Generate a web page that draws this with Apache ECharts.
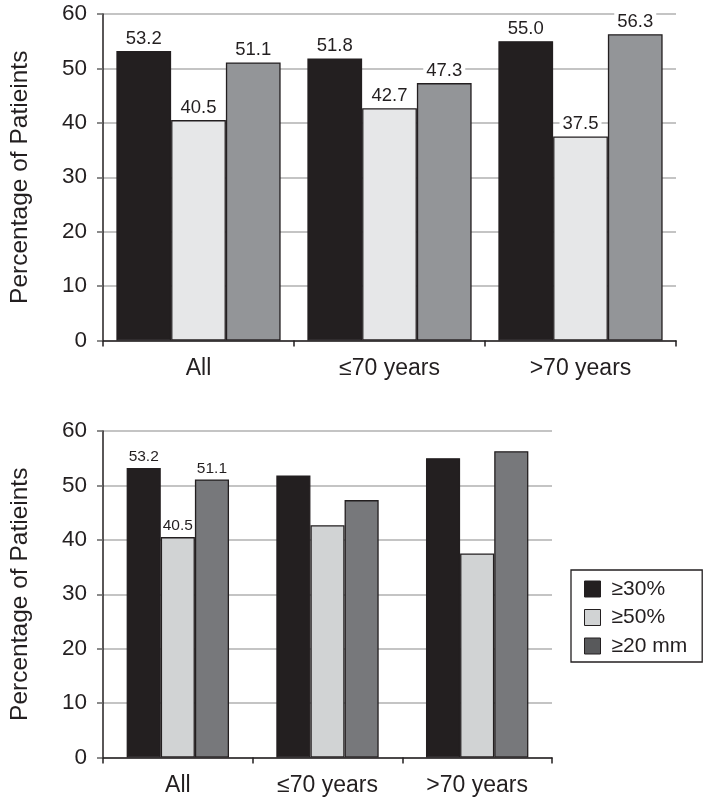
<!DOCTYPE html>
<html>
<head>
<meta charset="utf-8">
<script src="https://cdn.jsdelivr.net/npm/echarts@6/dist/echarts.min.js"></script>
<style>html,body{margin:0;padding:0;background:#fff;}#c{width:705px;height:800px;}</style>
</head>
<body>
<div id="c"></div>
<script>
const categories = ['All', '\u226470 years', '>70 years'];
const seriesNames = ['\u226530%', '\u226550%', '\u226520 mm'];
const s30 = [53.2, 51.8, 55.0];
const s50 = [40.5, 42.7, 37.5];
const s20 = [51.1, 47.3, 56.3];
const yMin = 0, yMax = 60, yStep = 10;
const labeledInBottom = [0];

const FONT = 'Liberation Sans';
const INK = '#231f20';
const topColors = ['#231f20', '#e6e7e8', '#939598'];
const botColors = ['#231f20', '#d1d3d4', '#77787b'];
const legendColors = ['#231f20', '#d1d3d4', '#58595b'];
const values = [s30, s50, s20];

const chart = echarts.init(document.getElementById('c'), null, {renderer: 'canvas'});

function xAxis(gi) {
  return {
    type: 'category', gridIndex: gi, data: categories,
    axisLine: {lineStyle: {color: INK, width: 1.5}},
    axisTick: {show: true, length: 6, lineStyle: {color: INK, width: 1.5}, alignWithLabel: false},
    axisLabel: {color: INK, fontFamily: FONT, fontSize: 23, margin: 17}
  };
}
function yAxis(gi) {
  return {
    type: 'value', gridIndex: gi, min: yMin, max: yMax, interval: yStep,
    name: 'Percentage of Patieints', nameLocation: 'middle', nameGap: 70, nameRotate: 90,
    nameTextStyle: {color: INK, fontFamily: FONT, fontSize: 24.5},
    axisLine: {show: true, lineStyle: {color: INK, width: 1.5}},
    axisTick: {show: true, length: 6, lineStyle: {color: '#666', width: 1.5}},
    axisLabel: {color: INK, fontFamily: FONT, fontSize: 22.5, margin: 16},
    splitLine: {show: true, lineStyle: {color: '#b0b0b0', width: 1.5}}
  };
}

const series = [];
values.forEach((arr, k) => {
  series.push({
    type: 'bar', name: seriesNames[k], xAxisIndex: 0, yAxisIndex: 0,
    data: arr, barGap: '0%', barCategoryGap: '14%',
    itemStyle: {color: topColors[k], borderColor: INK, borderWidth: 1.3},
    label: {show: true, position: 'top', distance: 3, color: INK, fontFamily: FONT, fontSize: 18.5,
      backgroundColor: '#fff', padding: [1, 3, 0, 3],
      formatter: p => Number(p.value).toFixed(1)}
  });
});
values.forEach((arr, k) => {
  series.push({
    type: 'bar', name: seriesNames[k], xAxisIndex: 1, yAxisIndex: 1,
    data: arr.map((v, i) => ({value: v, label: {show: labeledInBottom.includes(i)}})),
    barGap: '0%', barCategoryGap: '31.6%',
    itemStyle: {color: botColors[k], borderColor: INK, borderWidth: 1.3},
    label: {position: 'top', distance: 3, color: INK, fontFamily: FONT, fontSize: 15.5,
      formatter: p => Number(p.value).toFixed(1)}
  });
});

chart.setOption({
  backgroundColor: '#fff',
  animation: false,
  grid: [
    {left: 87, top: 14, width: 589, height: 326.5},
    {left: 87, top: 431, width: 465, height: 326.5}
  ],
  xAxis: [xAxis(0), xAxis(1)],
  yAxis: [yAxis(0), yAxis(1)],
  legend: {
    orient: 'vertical', left: 571, top: 570,
    selectedMode: false,
    borderColor: INK, borderWidth: 1.3, padding: [8.5, 15, 5.5, 13],
    itemWidth: 16, itemHeight: 16, itemGap: 7.5, icon: 'rect',
    textStyle: {color: INK, fontFamily: FONT, fontSize: 21, lineHeight: 16, padding: [0, 0, 0, 6]},
    data: seriesNames.map((n, k) => ({name: n, itemStyle: {color: legendColors[k], borderColor: INK, borderWidth: 1}}))
  },
  series: series
});
</script>
</body>
</html>
